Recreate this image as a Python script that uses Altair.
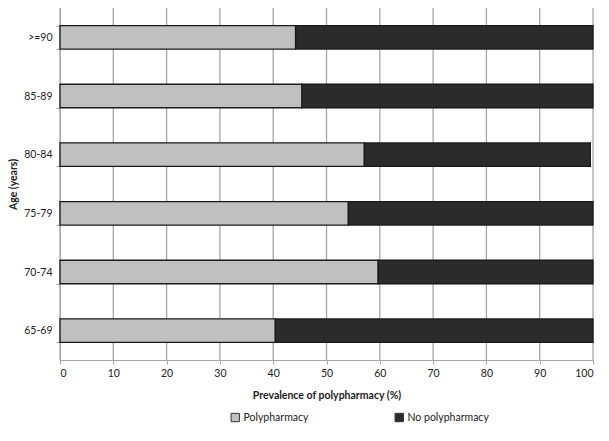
import altair as alt
import pandas as pd

ages = [">=90", "85-89", "80-84", "75-79", "70-74", "65-69"]
poly = [44.2, 45.4, 57.1, 54.1, 59.7, 40.4]
nopoly = [55.8, 54.6, 42.4, 45.9, 40.3, 59.6]
series = ["Polypharmacy", "No polypharmacy"]
colors = ["#c0c0c0", "#2b2b2b"]
x_ticks = [0, 10, 20, 30, 40, 50, 60, 70, 80, 90, 100]

rows = []
for a, p, n in zip(ages, poly, nopoly):
    rows.append({"age": a, "series": series[0], "value": p, "ord": 0})
    rows.append({"age": a, "series": series[1], "value": n, "ord": 1})
df = pd.DataFrame(rows)
grid_df = pd.DataFrame({"t": x_ticks})

FONT = "Lato"

xscale = alt.Scale(domain=[0, 100], nice=False, zero=True)
xaxis = alt.Axis(title="Prevalence of polypharmacy (%)", values=x_ticks,
                 grid=False,
                 domainColor="#a6a6a6", tickColor="#a6a6a6", tickSize=4,
                 labelFont=FONT, labelFontSize=10.5, labelColor="#222",
                 labelPadding=4,
                 titleFont=FONT, titleFontSize=10.5, titleFontWeight="bold",
                 titleColor="#222", titlePadding=12)

grid = alt.Chart(grid_df).mark_rule(color="#a6a6a6", strokeWidth=1.3).encode(
    x=alt.X("t:Q", scale=xscale, axis=xaxis)
)

bars = alt.Chart(df).mark_bar(stroke="#1a1a1a", strokeWidth=1.3).encode(
    x=alt.X("value:Q", stack="zero", scale=xscale, axis=xaxis),
    y=alt.Y("age:N", sort=ages,
            scale=alt.Scale(paddingInner=0.6, paddingOuter=0.3),
            axis=alt.Axis(title="Age (years)", grid=False, tickBand="extent",
                          domainColor="#a6a6a6", tickColor="#a6a6a6", tickSize=4,
                          labelFont=FONT, labelFontSize=10.5, labelColor="#222",
                          labelPadding=4,
                          titleFont=FONT, titleFontSize=10.5, titleFontWeight="bold",
                          titleColor="#222", titlePadding=5)),
    color=alt.Color("series:N", sort=series,
                    scale=alt.Scale(domain=series, range=colors),
                    legend=alt.Legend(title=None, orient="none", direction="horizontal",
                                      legendX=170, legendY=404,
                                      symbolType="square", symbolSize=70,
                                      symbolStrokeColor="#333", symbolStrokeWidth=1,
                                      symbolOpacity=1,
                                      labelFont=FONT, labelFontSize=10.5, labelColor="#222",
                                      columnPadding=84, labelOffset=3)),
    order=alt.Order("ord:Q"),
)

chart = alt.layer(grid, bars).properties(
    width=533, height=352,
    autosize=alt.AutoSizeParams(type="none"),
    padding={"left": 52, "top": 0, "right": 8, "bottom": 72},
).configure_view(stroke=None)

chart.save("out.html", embed_options={"renderer": "svg", "actions": False})
